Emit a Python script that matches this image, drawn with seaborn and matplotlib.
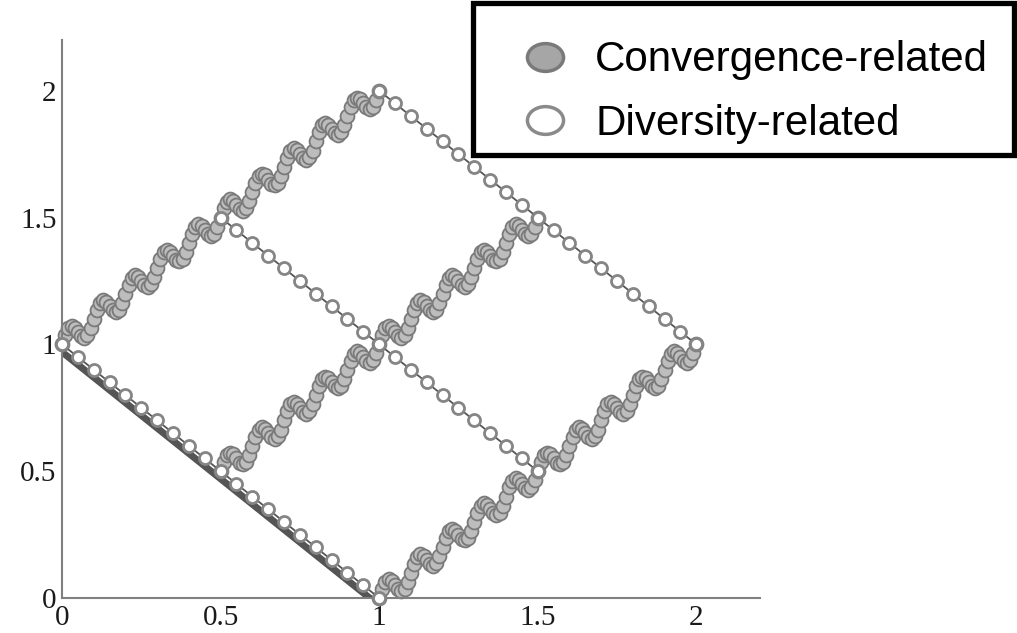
import numpy as np
import pandas as pd
import matplotlib
matplotlib.use('Agg')
import matplotlib.pyplot as plt
from matplotlib.lines import Line2D
from matplotlib.path import Path
from matplotlib.patches import Rectangle
from matplotlib.transforms import Affine2D
import seaborn as sns

# convergence-related curve, offsets from its start point (same shape for all three)
CONV_DX = [0.00, 0.01, 0.02, 0.03, 0.04, 0.05, 0.06, 0.07, 0.08, 0.09,
           0.10, 0.11, 0.12, 0.13, 0.14, 0.15, 0.16, 0.17, 0.18, 0.19,
           0.20, 0.21, 0.22, 0.23, 0.24, 0.25, 0.26, 0.27, 0.28, 0.29,
           0.30, 0.31, 0.32, 0.33, 0.34, 0.35, 0.36, 0.37, 0.38, 0.39,
           0.40, 0.41, 0.42, 0.43, 0.44, 0.45, 0.46, 0.47, 0.48, 0.49,
           0.50, 0.51, 0.52, 0.53, 0.54, 0.55, 0.56, 0.57, 0.58, 0.59,
           0.60, 0.61, 0.62, 0.63, 0.64, 0.65, 0.66, 0.67, 0.68, 0.69,
           0.70, 0.71, 0.72, 0.73, 0.74, 0.75, 0.76, 0.77, 0.78, 0.79,
           0.80, 0.81, 0.82, 0.83, 0.84, 0.85, 0.86, 0.87, 0.88, 0.89,
           0.90, 0.91, 0.92, 0.93, 0.94, 0.95, 0.96, 0.97, 0.98, 0.99,
           1.00]
CONV_DY = [0.000, 0.036, 0.063, 0.073, 0.066, 0.050, 0.034, 0.027, 0.037, 0.064,
           0.100, 0.136, 0.163, 0.173, 0.166, 0.150, 0.134, 0.127, 0.137, 0.164,
           0.200, 0.236, 0.263, 0.273, 0.266, 0.250, 0.234, 0.227, 0.237, 0.264,
           0.300, 0.336, 0.363, 0.373, 0.366, 0.350, 0.334, 0.327, 0.337, 0.364,
           0.400, 0.436, 0.463, 0.473, 0.466, 0.450, 0.434, 0.427, 0.437, 0.464,
           0.500, 0.536, 0.563, 0.573, 0.566, 0.550, 0.534, 0.527, 0.537, 0.564,
           0.600, 0.636, 0.663, 0.673, 0.666, 0.650, 0.634, 0.627, 0.637, 0.664,
           0.700, 0.736, 0.763, 0.773, 0.766, 0.750, 0.734, 0.727, 0.737, 0.764,
           0.800, 0.836, 0.863, 0.873, 0.866, 0.850, 0.834, 0.827, 0.837, 0.864,
           0.900, 0.936, 0.963, 0.973, 0.966, 0.950, 0.934, 0.927, 0.937, 0.964,
           1.000]
CONV_START_X = [0.0, 0.5, 1.0]
CONV_START_Y = [1.0, 0.5, 0.0]

# diversity-related line, offsets from its start point
DIV_DX = [0.00, 0.05, 0.10, 0.15, 0.20, 0.25, 0.30, 0.35, 0.40, 0.45, 0.50,
          0.55, 0.60, 0.65, 0.70, 0.75, 0.80, 0.85, 0.90, 0.95, 1.00]
DIV_DY = [0.00, -0.05, -0.10, -0.15, -0.20, -0.25, -0.30, -0.35, -0.40, -0.45, -0.50,
          -0.55, -0.60, -0.65, -0.70, -0.75, -0.80, -0.85, -0.90, -0.95, -1.00]
DIV_START_X = [0.0, 0.5, 1.0]
DIV_START_Y = [1.0, 1.5, 2.0]

# dark band under the lower diagonal
BAND_X = [0.0, 0.97]
BAND_Y = [0.97, 0.0]

TICKS = [0, 0.5, 1, 1.5, 2]
TICK_LABELS = ['0', '0.5', '1', '1.5', '2']
LEGEND_LABELS = ['Convergence-related', 'Diversity-related']

conv = pd.concat([
    pd.DataFrame({'x': np.add(CONV_DX, sx), 'y': np.add(CONV_DY, sy), 'curve': i})
    for i, (sx, sy) in enumerate(zip(CONV_START_X, CONV_START_Y))
], ignore_index=True)
div = pd.concat([
    pd.DataFrame({'x': np.add(DIV_DX, sx), 'y': np.add(DIV_DY, sy), 'line': i})
    for i, (sx, sy) in enumerate(zip(DIV_START_X, DIV_START_Y))
], ignore_index=True)

sns.set_style('white')
plt.rcParams['font.family'] = ['Liberation Serif', 'DejaVu Serif']

fig = plt.figure(figsize=(10.17, 6.33), dpi=100)
ax = fig.add_axes([0.061, 0.0553, 0.686, 0.8815])

sns.lineplot(x=BAND_X, y=BAND_Y, color='#555555', linewidth=5, ax=ax, zorder=1)
sns.scatterplot(data=conv, x='x', y='y', s=100, color='#bdbdbd', edgecolor='#7a7a7a',
                linewidth=1.3, ax=ax, zorder=2, clip_on=False, legend=False)
sns.lineplot(data=div, x='x', y='y', units='line', estimator=None, sort=False,
             color='#555555', linewidth=1.3, ax=ax, zorder=3, legend=False)
sns.scatterplot(data=div, x='x', y='y', s=75, color='white', edgecolor='#858585',
                linewidth=2, ax=ax, zorder=4, clip_on=False, legend=False)

ax.set_xlim(0, 2.2)
ax.set_ylim(0, 2.2)
ax.set_xticks(TICKS)
ax.set_xticklabels(TICK_LABELS)
ax.set_yticks(TICKS)
ax.set_yticklabels(TICK_LABELS)
ax.set_xlabel('')
ax.set_ylabel('')
for side in ['top', 'right']:
    ax.spines[side].set_visible(False)
for side in ['left', 'bottom']:
    ax.spines[side].set_color('#808080')
    ax.spines[side].set_linewidth(1.5)
ax.tick_params(direction='in', length=6, width=1.2, color='#808080',
               labelsize=21, labelcolor='#1a1a1a')
ax.tick_params(axis='x', pad=5)
ax.tick_params(axis='y', pad=4)

# legend box drawn separately so the text sits low in it like the reference
box = Rectangle((473 / 1017, 1 - 155 / 633), 541 / 1017, 152 / 633,
                transform=fig.transFigure, facecolor='white', edgecolor='black',
                linewidth=3.8, zorder=5)
fig.patches.append(box)

# legend markers are slightly stretched ellipses in the reference
ell = Path.unit_circle().transformed(Affine2D().scale(1.3, 1.0))
handles = [
    Line2D([], [], linestyle='none', marker=ell, markersize=26,
           markerfacecolor='#a6a6a6', markeredgecolor='#7a7a7a', markeredgewidth=2.5),
    Line2D([], [], linestyle='none', marker=ell, markersize=26,
           markerfacecolor='white', markeredgecolor='#8a8a8a', markeredgewidth=2.5),
]
leg = fig.legend(handles, LEGEND_LABELS, loc='upper left',
                 bbox_to_anchor=(473 / 1017, 1 - 15 / 633), borderaxespad=0,
                 frameon=False, borderpad=0.6, handlelength=2.23, handletextpad=0.07,
                 labelspacing=0.56, labelcolor='black',
                 prop={'family': 'Liberation Sans', 'size': 30.3})
leg.set_zorder(6)

fig.savefig('out.png', dpi=100)
